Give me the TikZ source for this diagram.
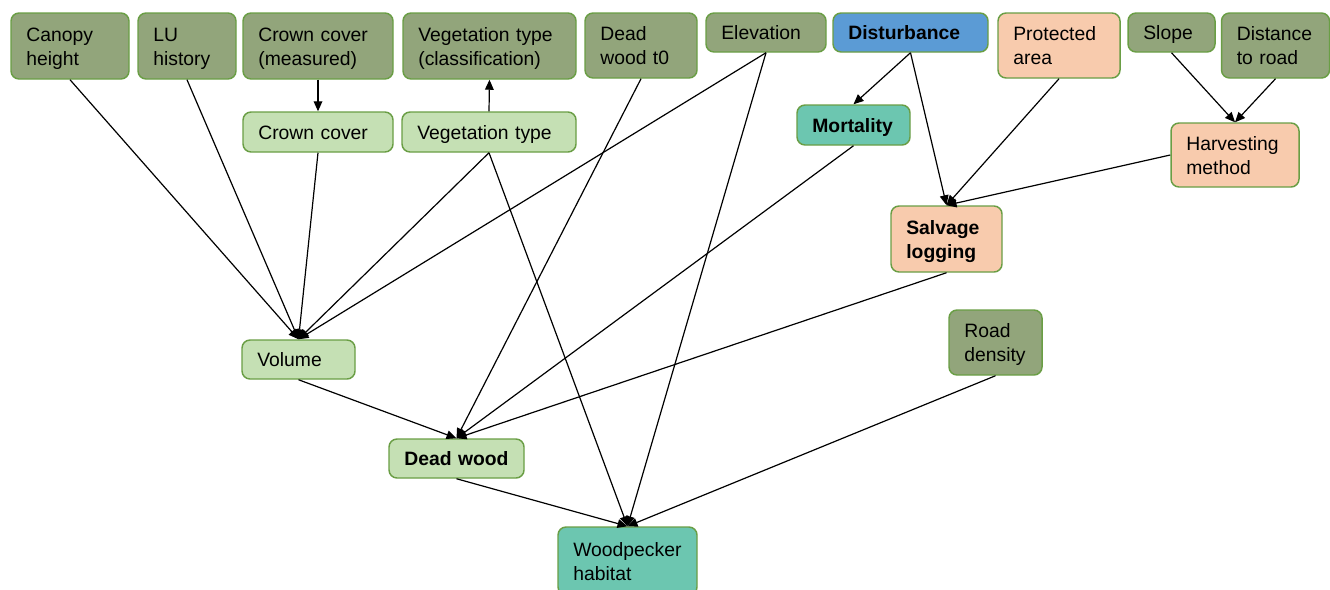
\documentclass[tikz,border=0pt]{standalone}
\usepackage{fontspec}
\setmainfont{Liberation Sans}
\usetikzlibrary{arrows.meta}
\definecolor{bordg}{HTML}{6A9E45}
\definecolor{darkg}{HTML}{92A57B}
\definecolor{lightg}{HTML}{C5E0B4}
\definecolor{blueb}{HTML}{5B9BD5}
\definecolor{peach}{HTML}{F8CBAD}
\definecolor{teal}{HTML}{6CC6B0}
\newcommand\onel[1]{\rule[-2.5pt]{0pt}{16pt}\smash{#1}}
\newcommand\twol[2]{\rule{0pt}{13.5pt}\smash{#1}\\\rule[-2.5pt]{0pt}{2.5pt}\smash{#2}}
\tikzset{
  box/.style={draw=bordg, line width=1.1pt, rounded corners=6pt, align=left,
    inner xsep=11.5pt, inner ysep=0pt,
    font=\fontsize{14.5}{18}\selectfont,
    execute at begin node={\hyphenpenalty=10000\hbadness=10000}},
  bold/.style={font=\fontsize{14.5}{18}\selectfont\bfseries},
  bD/.style={box, fill=darkg},
  bL/.style={box, fill=lightg},
  bB/.style={box, fill=blueb},
  bP/.style={box, fill=peach},
  bT/.style={box, fill=teal},
  arr/.style={draw=black, line width=0.9pt, -{Triangle[length=7.5pt,width=6.5pt]}},
}
\begin{document}
\begin{tikzpicture}[x=0.75pt,y=-0.75pt]
\useasboundingbox (0,0) rectangle (1330,589);
% top row
\node[bD, minimum width=88.5pt, minimum height=49.5pt, text width=65.5pt] (canopy) at (70,46) {\twol{Canopy}{height}};
\node[bD, minimum width=73.5pt, minimum height=49.5pt, text width=50.5pt] (lu) at (187,46) {\twol{LU}{history}};
\node[bD, minimum width=112.5pt, minimum height=49.5pt, text width=89.5pt] (ccm) at (318,46) {\twol{Crown cover}{(measured)}};
\node[bD, minimum width=129.75pt, minimum height=49.5pt, text width=106.75pt] (vtc) at (489.5,46) {\twol{Vegetation type}{(classification)}};
\node[bD, minimum width=84pt, minimum height=48.75pt, text width=61pt] (dw0) at (641,45.5) {\twol{Dead}{wood t0}};
\node[bD, minimum width=90pt, minimum height=29.25pt, text width=67pt] (elev) at (766,32.5) {\onel{Elevation}};
\node[bB, bold, minimum width=116.25pt, minimum height=29.25pt, text width=93.25pt] (dist) at (910.5,32.5) {\onel{Disturbance}};
\node[bP, minimum width=91.5pt, minimum height=48.75pt, text width=68.5pt] (prot) at (1059,45.5) {\twol{Protected}{area}};
\node[bD, minimum width=65.25pt, minimum height=29.25pt, text width=42.25pt] (slope) at (1171.5,32.5) {\onel{Slope}};
\node[bD, minimum width=81pt, minimum height=48.75pt, text width=58pt] (droad) at (1275.5,45.5) {\twol{Distance}{to road}};
% second row
\node[bL, minimum width=112.5pt, minimum height=30pt, text width=89.5pt] (cc) at (318,132) {\onel{Crown cover}};
\node[bL, minimum width=130.5pt, minimum height=30pt, text width=107.5pt] (vt) at (489,132) {\onel{Vegetation type}};
\node[bT, bold, minimum width=84.75pt, minimum height=30pt, text width=61.75pt] (mort) at (853.5,125) {\onel{Mortality}};
\node[bP, minimum width=96pt, minimum height=48pt, text width=73pt] (harv) at (1235,155) {\twol{Harvesting}{method}};
\node[bP, bold, minimum width=83.25pt, minimum height=49.5pt, text width=60.25pt] (salv) at (946.5,239) {\twol{Salvage}{logging}};
% lower
\node[bL, minimum width=84.75pt, minimum height=29.25pt, text width=61.75pt] (vol) at (298.5,359.5) {\onel{Volume}};
\node[bD, minimum width=69.75pt, minimum height=48.75pt, text width=46.75pt] (rd) at (995.5,342.5) {\twol{Road}{density}};
\node[bL, bold, minimum width=101.25pt, minimum height=29.25pt, text width=78.25pt] (dw) at (456.5,458.5) {\onel{Dead wood}};
\node[bT, minimum width=104.25pt, minimum height=51pt, text width=81.25pt] (wp) at (627.5,561) {\twol{Woodpecker}{habitat}};
% edges
\draw[arr] (canopy.south) -- (vol.north);
\draw[arr] (lu.south) -- (vol.north);
\draw[arr] (cc.south) -- (vol.north);
\draw[arr] (vt.south) -- (vol.north);
\draw[arr] (elev.south) -- (vol.north);
\draw[arr] (ccm.south) -- (cc.north);
\draw[arr] (vt.north) -- (vtc.south);
\draw[arr] (vt.south) -- (wp.north);
\draw[arr] (dw0.south) -- (dw.north);
\draw[arr] (elev.south) -- (wp.north);
\draw[arr] (dist.south) -- (mort.north);
\draw[arr] (dist.south) -- (salv.north);
\draw[arr] (prot.south) -- (salv.north);
\draw[arr] (harv.west) -- (salv.north);
\draw[arr] (slope.south) -- (harv.north);
\draw[arr] (droad.south) -- (harv.north);
\draw[arr] (mort.south) -- (dw.north);
\draw[arr] (salv.south) -- (dw.north);
\draw[arr] (vol.south) -- (dw.north);
\draw[arr] (dw.south) -- (wp.north);
\draw[arr] (rd.south) -- (wp.north);
\end{tikzpicture}
\end{document}
